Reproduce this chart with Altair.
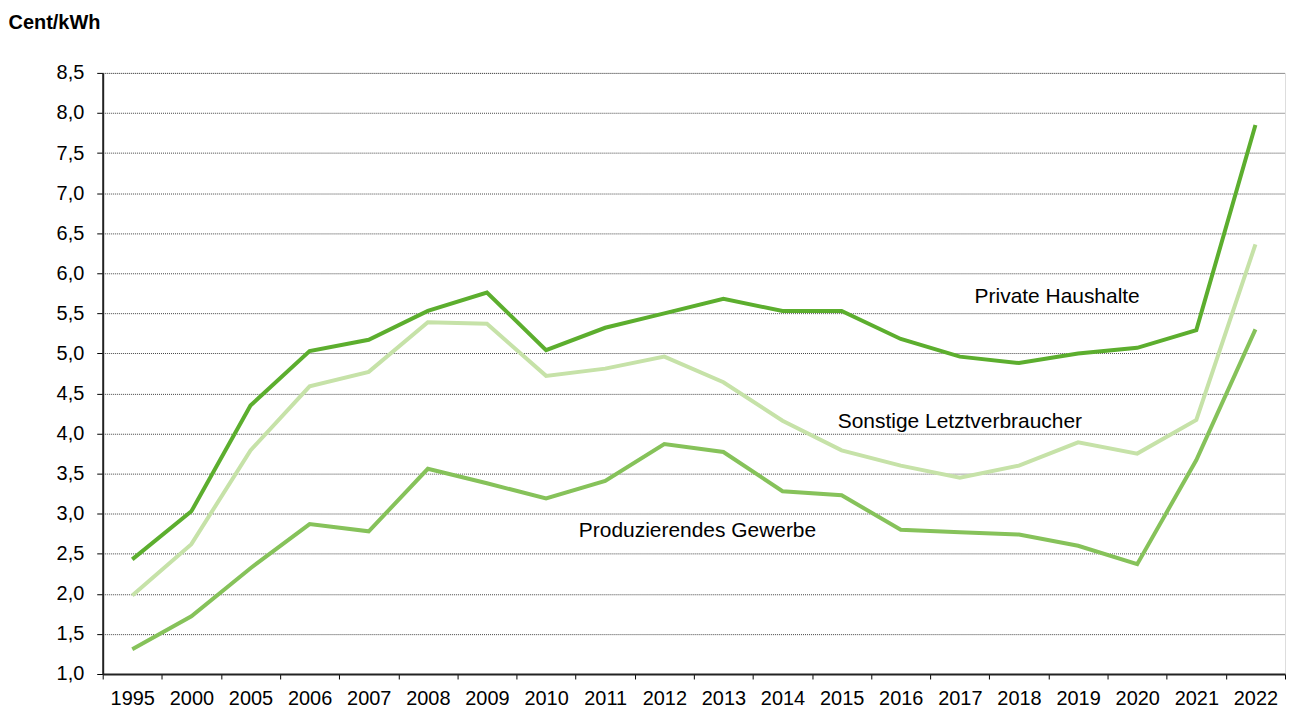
import altair as alt
import pandas as pd

years = ["1995", "2000", "2005", "2006", "2007", "2008", "2009", "2010", "2011", "2012",
         "2013", "2014", "2015", "2016", "2017", "2018", "2019", "2020", "2021", "2022"]
private = [2.43, 3.03, 4.35, 5.03, 5.17, 5.53, 5.76, 5.04, 5.32, 5.50,
           5.68, 5.53, 5.53, 5.18, 4.96, 4.88, 5.00, 5.07, 5.29, 7.85]
sonstige = [1.98, 2.62, 3.79, 4.59, 4.77, 5.39, 5.37, 4.72, 4.81, 4.96,
            4.64, 4.16, 3.79, 3.60, 3.45, 3.60, 3.89, 3.75, 4.17, 6.36]
gewerbe = [1.31, 1.72, 2.32, 2.87, 2.78, 3.56, 3.38, 3.19, 3.41, 3.87,
           3.77, 3.28, 3.23, 2.80, 2.77, 2.74, 2.60, 2.37, 3.67, 5.30]

series_names = ["Private Haushalte", "Sonstige Letztverbraucher", "Produzierendes Gewerbe"]
series_colors = ["#5cae2e", "#c6e2a8", "#86c25a"]

label_year = ["2019", "2017", "2013"]
label_value = [5.70, 4.15, 2.79]
label_dx = [-21, 0, -26]

rows = []
for name, vals in zip(series_names, [private, sonstige, gewerbe]):
    for y, v in zip(years, vals):
        rows.append({"Jahr": y, "Wert": v, "Reihe": name})
df = pd.DataFrame(rows)

x_enc = alt.X("Jahr:N", sort=years,
              scale=alt.Scale(paddingInner=0, paddingOuter=0),
              axis=alt.Axis(title=None, labelAngle=0, labelFontSize=20, labelColor="#000000",
                            labelFont="Liberation Sans", labelPadding=10,
                            domainColor="#222222", domainWidth=2, tickColor="#000000",
                            tickSize=5, tickBand="extent", grid=False))
y_scale = alt.Scale(domain=[1.0, 8.5], nice=False, zero=False)
y_axis = alt.Axis(values=[1.0 + 0.5 * i for i in range(16)],
                  labelExpr="replace(format(datum.value, '.1f'), '.', ',')",
                  labelFontSize=20, labelColor="#000000", labelFont="Liberation Sans",
                  labelPadding=13, domainColor="#222222", domainWidth=2,
                  tickColor="#000000", tickSize=6,
                  gridColor="#444444", gridDash=[1, 1], gridWidth=1,
                  title="Cent/kWh", titleAngle=0, titleAlign="left", titleBaseline="alphabetic",
                  titleX=-95, titleY=-45, titleFontSize=20, titleFontWeight="bold",
                  titleFont="Liberation Sans", titleColor="#000000")

lines = alt.Chart(df).mark_line(strokeWidth=4).encode(
    x=x_enc,
    y=alt.Y("Wert:Q", scale=y_scale, axis=y_axis),
    color=alt.Color("Reihe:N", scale=alt.Scale(domain=series_names, range=series_colors), legend=None),
    detail="Reihe:N",
)

labels_df = pd.DataFrame({"Jahr": label_year, "Wert": label_value, "Text": series_names, "dx": label_dx})
label_layers = []
for i in range(3):
    label_layers.append(
        alt.Chart(labels_df.iloc[[i]]).mark_text(
            fontSize=21, font="Liberation Sans", color="#000000", align="center",
            baseline="middle", dx=label_dx[i]
        ).encode(x=alt.X("Jahr:N", sort=years), y=alt.Y("Wert:Q"), text="Text:N")
    )

chart = alt.layer(lines, *label_layers).properties(
    width=1186, height=603, padding={"left": 0, "top": 3, "right": 0, "bottom": 0}
).configure_view(stroke="#999999", strokeWidth=3).configure(background="white")

chart.save("out.html", embed_options={"renderer": "svg", "actions": False})
